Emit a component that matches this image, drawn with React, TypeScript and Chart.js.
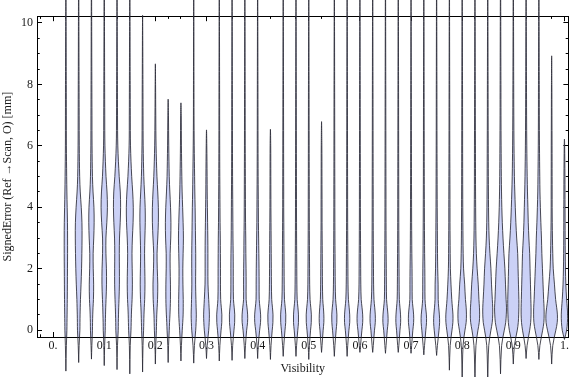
import { useEffect, useRef } from 'react';
import { Chart, registerables } from 'chart.js';

Chart.register(...registerables);

// Visibility categories (one violin each)
const VISIBILITY = [
  0.025, 0.05, 0.075, 0.1, 0.125, 0.15, 0.175, 0.2, 0.225, 0.25,
  0.275, 0.3, 0.325, 0.35, 0.375, 0.4, 0.425, 0.45, 0.475, 0.5,
  0.525, 0.55, 0.575, 0.6, 0.625, 0.65, 0.675, 0.7, 0.725, 0.75,
  0.775, 0.8, 0.825, 0.85, 0.875, 0.9, 0.925, 0.95, 0.975, 1.0,
];

// lowest / highest signed error of every violin [mm]
const TIP_LOW = [
  -1.33, -1.05, -0.94, -1.15, -1.28, -1.42, -1.36, -1.1, -1.05, -1.0,
  -1.07, -0.92, -1.0, -0.98, -0.92, -0.92, -0.95, -0.85, -0.85, -0.95,
  -0.72, -0.85, -0.85, -0.72, -0.72, -0.75, -0.72, -0.75, -0.8, -0.82,
  -1.3, -1.7, -1.7, -1.7, -1.42, -1.1, -0.92, -0.95, -1.1, -0.3,
];
const TIP_HIGH = [
  12, 12, 12, 12, 12, 12, 10.25, 8.67, 7.52, 7.4,
  12, 6.52, 12, 12, 12, 12, 6.54, 12, 12, 12,
  6.79, 12, 12, 12, 12, 12, 12, 12, 12, 12,
  12, 12, 12, 12, 12, 12, 12, 12, 8.93, 6.22,
];

// error levels at which the density was read [mm]
const DENSITY_LEVELS = [-0.5, 0, 0.25, 0.5, 0.75, 1, 1.5, 2, 2.5, 3, 3.5, 4, 4.5, 5, 6, 7, 8];

// estimated density (relative half width) per violin at DENSITY_LEVELS
const DENSITY = [
  [0.5, 1.0, 1.1, 1.2, 1.3, 1.4, 1.5, 1.6, 1.7, 1.7, 1.6, 1.3, 1.0, 0.8, 0.5, 0.45, 0.4],
  [0.45, 1.2, 1.3, 1.4, 1.6, 1.8, 2.4, 2.9, 3.2, 3.4, 3.3, 2.6, 1.6, 1.0, 0.6, 0.5, 0.4],
  [0.4, 1.0, 1.1, 1.3, 1.6, 2.0, 2.2, 1.8, 1.7, 2.3, 2.7, 2.5, 1.6, 1.0, 0.6, 0.5, 0.4],
  [0.4, 1.0, 1.1, 1.3, 1.5, 1.8, 2.3, 2.2, 1.7, 1.7, 2.6, 3.2, 2.8, 1.8, 0.7, 0.5, 0.4],
  [0.45, 1.2, 1.3, 1.5, 1.7, 2.0, 2.4, 2.4, 2.3, 2.5, 3.2, 3.6, 3.3, 2.2, 0.8, 0.5, 0.4],
  [0.45, 1.2, 1.4, 1.6, 1.9, 2.3, 2.6, 2.4, 2.2, 2.6, 3.3, 3.5, 2.9, 1.9, 0.7, 0.5, 0.4],
  [0.4, 1.0, 1.2, 1.4, 1.7, 2.1, 2.4, 2.2, 2.0, 2.3, 2.7, 2.6, 1.9, 1.2, 0.6, 0.45, 0.35],
  [0.4, 1.0, 1.2, 1.4, 1.8, 2.2, 2.4, 1.9, 1.7, 2.4, 3.0, 3.0, 2.4, 1.6, 0.7, 0.4, 0.2],
  [0.4, 1.1, 1.4, 1.8, 2.1, 2.3, 2.3, 2.0, 2.0, 2.6, 2.8, 2.4, 1.7, 1.1, 0.6, 0.3, 0.0],
  [0.5, 1.3, 1.8, 2.2, 2.3, 2.3, 2.0, 1.9, 2.2, 2.5, 2.2, 1.7, 1.2, 0.9, 0.5, 0.3, 0.0],
  [0.7, 2.0, 2.4, 2.6, 2.4, 2.2, 1.9, 2.0, 2.0, 1.8, 1.6, 1.4, 1.1, 0.9, 0.5, 0.3, 0.25],
  [0.7, 2.2, 2.7, 2.9, 2.6, 2.2, 1.5, 1.4, 1.4, 1.3, 1.1, 0.9, 0.7, 0.6, 0.3, 0.0, 0.0],
  [0.6, 1.8, 2.5, 2.6, 2.0, 1.4, 1.2, 1.2, 1.1, 1.0, 0.8, 0.7, 0.6, 0.5, 0.4, 0.35, 0.3],
  [0.6, 1.9, 2.6, 2.7, 2.1, 1.4, 1.2, 1.2, 1.1, 0.9, 0.8, 0.7, 0.6, 0.5, 0.4, 0.35, 0.3],
  [0.6, 1.8, 2.7, 2.8, 2.1, 1.3, 1.3, 1.2, 1.0, 0.9, 0.7, 0.6, 0.55, 0.5, 0.4, 0.35, 0.3],
  [0.6, 2.0, 2.9, 3.0, 2.3, 1.6, 1.5, 1.4, 1.2, 1.0, 0.8, 0.7, 0.6, 0.5, 0.4, 0.35, 0.3],
  [0.6, 1.8, 2.5, 2.6, 2.0, 1.3, 1.0, 0.9, 0.8, 0.7, 0.6, 0.5, 0.45, 0.4, 0.3, 0.0, 0.0],
  [0.6, 1.8, 2.5, 2.6, 2.0, 1.3, 1.0, 0.9, 0.8, 0.7, 0.6, 0.5, 0.5, 0.45, 0.4, 0.35, 0.3],
  [0.6, 1.8, 2.5, 2.5, 1.9, 1.2, 0.9, 0.8, 0.7, 0.6, 0.55, 0.5, 0.5, 0.45, 0.4, 0.35, 0.3],
  [0.6, 1.8, 2.5, 2.6, 2.0, 1.3, 0.9, 0.8, 0.7, 0.6, 0.55, 0.5, 0.5, 0.45, 0.4, 0.35, 0.3],
  [0.5, 1.6, 2.3, 2.3, 1.8, 1.2, 0.9, 0.8, 0.7, 0.6, 0.5, 0.5, 0.45, 0.4, 0.3, 0.0, 0.0],
  [0.6, 1.8, 2.5, 2.6, 2.0, 1.3, 0.9, 0.8, 0.7, 0.6, 0.55, 0.5, 0.5, 0.45, 0.4, 0.35, 0.3],
  [0.6, 1.8, 2.6, 2.6, 2.0, 1.3, 0.9, 0.8, 0.7, 0.6, 0.55, 0.5, 0.5, 0.45, 0.4, 0.35, 0.3],
  [0.6, 2.0, 2.8, 2.8, 2.1, 1.3, 0.9, 0.8, 0.7, 0.6, 0.55, 0.5, 0.5, 0.45, 0.4, 0.35, 0.3],
  [0.6, 1.8, 2.6, 2.6, 2.0, 1.3, 0.9, 0.8, 0.7, 0.6, 0.55, 0.5, 0.5, 0.45, 0.4, 0.35, 0.3],
  [0.6, 1.8, 2.6, 2.5, 1.8, 1.1, 0.9, 0.8, 0.7, 0.6, 0.55, 0.5, 0.5, 0.45, 0.4, 0.35, 0.3],
  [0.6, 1.7, 2.4, 2.3, 1.7, 1.1, 0.9, 0.8, 0.7, 0.6, 0.55, 0.5, 0.5, 0.45, 0.4, 0.35, 0.3],
  [0.6, 1.8, 2.6, 2.6, 1.9, 1.2, 1.1, 1.0, 0.8, 0.7, 0.6, 0.55, 0.5, 0.45, 0.4, 0.35, 0.3],
  [0.7, 2.0, 2.7, 2.6, 1.8, 1.2, 1.1, 1.0, 0.8, 0.7, 0.6, 0.55, 0.5, 0.45, 0.4, 0.35, 0.3],
  [0.8, 2.4, 3.0, 2.8, 2.1, 1.6, 1.5, 1.1, 0.9, 0.8, 0.7, 0.6, 0.55, 0.5, 0.4, 0.35, 0.3],
  [0.8, 2.6, 3.5, 3.6, 3.0, 2.4, 1.6, 1.0, 0.8, 0.7, 0.6, 0.6, 0.55, 0.5, 0.4, 0.35, 0.3],
  [0.9, 2.8, 4.0, 4.3, 4.0, 3.3, 2.5, 1.4, 1.0, 0.8, 0.7, 0.6, 0.55, 0.5, 0.45, 0.4, 0.35],
  [1.0, 3.0, 4.3, 4.7, 4.5, 4.0, 3.3, 2.2, 1.4, 1.0, 0.8, 0.7, 0.6, 0.55, 0.5, 0.4, 0.35],
  [1.0, 3.2, 4.5, 5.0, 5.0, 4.6, 3.8, 3.2, 2.2, 1.4, 1.0, 0.8, 0.7, 0.6, 0.5, 0.4, 0.35],
  [1.1, 3.8, 5.2, 5.8, 6.0, 5.6, 5.0, 4.4, 3.4, 2.5, 1.8, 1.3, 1.0, 0.8, 0.6, 0.45, 0.4],
  [1.1, 4.0, 5.0, 5.4, 5.6, 5.6, 5.2, 4.8, 4.4, 3.4, 2.6, 2.0, 1.5, 1.1, 0.7, 0.5, 0.4],
  [1.0, 3.6, 4.6, 5.0, 5.0, 4.8, 4.4, 4.0, 3.6, 2.8, 2.2, 1.8, 1.4, 1.1, 0.7, 0.5, 0.4],
  [1.0, 3.8, 5.0, 5.3, 5.2, 4.8, 4.2, 3.6, 3.0, 2.6, 2.0, 1.5, 1.1, 0.9, 0.6, 0.45, 0.4],
  [1.1, 4.2, 5.6, 5.8, 5.0, 4.0, 2.8, 1.6, 1.1, 0.8, 0.6, 0.5, 0.5, 0.45, 0.4, 0.3, 0.2],
  [0.0, 2.2, 3.0, 3.2, 2.8, 2.2, 1.4, 1.0, 0.8, 0.7, 0.65, 0.6, 0.55, 0.5, 0.2, 0.0, 0.0],
];

const X_TICK_LABELS = ['0.', '0.1', '0.2', '0.3', '0.4', '0.5', '0.6', '0.7', '0.8', '0.9', '1.'];
const Y_TICK_LABELS = ['0', '2', '4', '6', '8', '10'];
const X_TITLE = 'Visibility';
const Y_TITLE = 'SignedError (Ref \u2192Scan, O) [mm]';

const X_MIN = -0.0315;
const X_MAX = 1.0077;
const Y_MIN = -0.22;
const Y_MAX = 10.22;
const DENSITY_SCALE = 0.00194; // visibility units per density unit

const FONT = "'Liberation Serif', 'DejaVu Serif', serif";
const FILL = 'rgb(203, 209, 246)';
const EDGE = 'rgba(42, 42, 54, 0.85)';

function violinPoints(c: number, lo: number, hi: number, row: number[]) {
  const right: { x: number; y: number }[] = [];
  DENSITY_LEVELS.forEach((lv, i) => {
    if (lv > lo + 0.05 && lv < hi - 0.05) right.push({ x: c + row[i] * DENSITY_SCALE, y: lv });
  });
  const left = right.map((p) => ({ x: 2 * c - p.x, y: p.y })).reverse();
  return [{ x: c, y: lo }, ...right, { x: c, y: hi }, ...left, { x: c, y: lo }];
}

function axis(axisName: 'x' | 'y', position: string, weight: number, min: number, max: number, tickLength: number) {
  return {
    type: 'linear' as const,
    axis: axisName,
    position,
    weight,
    min,
    max,
    grid: {
      display: true,
      drawOnChartArea: false,
      drawTicks: true,
      tickColor: '#000',
      tickWidth: 1,
      tickLength,
    },
  };
}

export default function App() {
  const ref = useRef<HTMLCanvasElement | null>(null);

  useEffect(() => {
    document.body.style.margin = '0';
    const canvas = ref.current;
    if (!canvas) return;

    const datasets = VISIBILITY.map((c, i) => ({
      type: 'line' as const,
      data: violinPoints(c, TIP_LOW[i], TIP_HIGH[i], DENSITY[i]),
      xAxisID: 'x',
      yAxisID: 'y',
      fill: 'shape',
      backgroundColor: FILL,
      borderColor: EDGE,
      borderWidth: 1,
      pointRadius: 0,
      pointHoverRadius: 0,
      tension: 0.35,
      clip: false,
    }));

    const tickFont = { family: FONT, size: 12 };
    const hidden = (step: number) => ({ stepSize: step, includeBounds: false, autoSkip: false, display: false });

    const chart = new Chart(canvas, {
      type: 'line',
      data: { datasets: datasets as any },
      options: {
        responsive: false,
        animation: false,
        devicePixelRatio: 1,
        events: [],
        layout: { padding: 0 },
        elements: { line: { capBezierPoints: false } as any },
        plugins: { legend: { display: false }, tooltip: { enabled: false } },
        scales: {
          x: {
            ...axis('x', 'bottom', 2, X_MIN, X_MAX, -5),
            border: { display: true, color: '#000', width: 1 },
            ticks: {
              stepSize: 0.1,
              includeBounds: false,
              autoSkip: false,
              maxRotation: 0,
              padding: 7,
              color: '#1a1a1a',
              font: tickFont,
              callback: (v: any) => X_TICK_LABELS[Math.round(Number(v) * 10)] ?? '',
            },
            title: {
              display: true,
              text: X_TITLE,
              color: '#1a1a1a',
              font: tickFont,
              padding: { top: 0, bottom: 1 },
            },
            afterFit: (s: any) => { s.height = 40; },
          },
          xMinor: {
            ...axis('x', 'bottom', 1, X_MIN, X_MAX, -2.7),
            border: { display: false },
            ticks: hidden(0.025),
            afterFit: (s: any) => { s.height = 0; },
          },
          xTop: {
            ...axis('x', 'top', 2, X_MIN, X_MAX, -5),
            border: { display: true, color: '#000', width: 1 },
            ticks: hidden(0.1),
            afterFit: (s: any) => { s.height = 4; },
          },
          xTopMinor: {
            ...axis('x', 'top', 1, X_MIN, X_MAX, -2.7),
            border: { display: false },
            ticks: hidden(0.025),
            afterFit: (s: any) => { s.height = 0; },
          },
          y: {
            ...axis('y', 'left', 2, Y_MIN, Y_MAX, -5),
            border: { display: true, color: '#000', width: 1 },
            ticks: {
              stepSize: 2,
              includeBounds: false,
              autoSkip: false,
              padding: 9,
              color: '#1a1a1a',
              font: tickFont,
              callback: (v: any) => Y_TICK_LABELS[Math.round(Number(v) / 2)] ?? '',
            },
            title: {
              display: true,
              text: Y_TITLE,
              color: '#1a1a1a',
              font: tickFont,
              padding: { top: 1, bottom: 0 },
            },
            afterFit: (s: any) => { s.width = 37; },
          },
          yMinor: {
            ...axis('y', 'left', 1, Y_MIN, Y_MAX, -2.7),
            border: { display: false },
            ticks: hidden(0.5),
            afterFit: (s: any) => { s.width = 0; },
          },
          yRight: {
            ...axis('y', 'right', 2, Y_MIN, Y_MAX, -5),
            border: { display: true, color: '#000', width: 1 },
            ticks: hidden(2),
            afterFit: (s: any) => { s.width = 2; },
          },
          yRightMinor: {
            ...axis('y', 'right', 1, Y_MIN, Y_MAX, -2.7),
            border: { display: false },
            ticks: hidden(0.5),
            afterFit: (s: any) => { s.width = 0; },
          },
        } as any,
      },
    });

    return () => chart.destroy();
  }, []);

  return (
    <div style={{ width: 576, height: 377, background: '#fff' }}>
      <canvas ref={ref} width={576} height={377} style={{ display: 'block' }} />
    </div>
  );
}
